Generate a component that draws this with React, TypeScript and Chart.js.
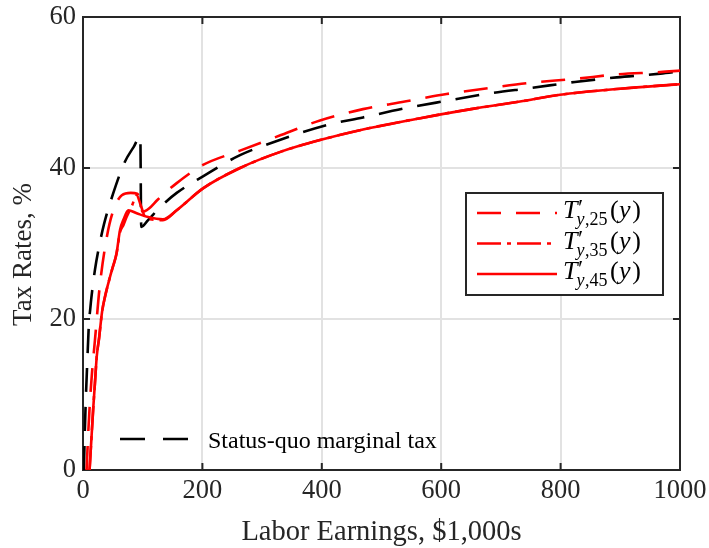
import { useEffect, useRef } from "react";
import { Chart, registerables } from "chart.js";

Chart.register(...registerables);

// Status-quo marginal tax schedule ($1,000s -> %)
const statusQuoEarnings = [1.5, 3, 5, 7, 10, 12, 14, 20, 28, 35, 50, 70, 85, 96, 97.5, 109, 129, 157, 201, 263, 333, 409, 469, 539, 609, 682, 751, 824, 894, 967, 1000];
const statusQuoRate = [0, 5, 10, 14, 19.5, 21.2, 22.8, 26.5, 30, 32.5, 36.5, 40.8, 42.8, 44.2, 32.2, 33.1, 34.8, 36.7, 38.9, 41.7, 43.8, 45.7, 46.7, 47.9, 48.9, 49.9, 50.6, 51.4, 52.0, 52.5, 52.8];

// Optimal marginal tax for age 25
const age25Earnings = [6, 9, 12, 15, 20, 28, 40, 50, 65, 80, 91, 100, 110, 125, 157, 201, 263, 333, 397, 469, 539, 609, 682, 751, 824, 894, 967, 1000];
const age25Rate = [0, 5.3, 9.5, 12.8, 17.2, 24.3, 30.9, 34.2, 36.4, 36.7, 36.6, 34.2, 34.6, 35.8, 38.0, 40.4, 42.3, 44.4, 46.3, 47.8, 48.8, 49.8, 50.6, 51.3, 51.8, 52.4, 52.7, 52.9];

// Optimal marginal tax for age 35
const age35Earnings = [11, 14, 17, 20, 23, 27, 32, 37, 45, 50, 56, 62, 68, 73, 82, 90, 97, 104, 112, 134, 157, 201, 263, 333, 397, 469, 565, 650, 732, 799, 900, 1000];
const age35Rate = [0, 4, 8, 11.5, 15, 17.5, 21, 23, 25.5, 26.9, 28.6, 31.5, 32.5, 33.5, 35.0, 36.4, 35.0, 33.5, 33.2, 33.1, 34.4, 37.3, 40.0, 42.2, 43.7, 45.1, 46.6, 47.8, 48.8, 49.7, 50.5, 51.1];

// Optimal marginal tax for age 45
const age45Earnings = [11, 14, 17, 20, 23, 27, 32, 37, 45, 50, 56, 62, 68, 76, 90, 109, 134, 157, 201, 263, 333, 397, 469, 565, 650, 732, 799, 900, 1000];
const age45Rate = [0, 4, 8, 11.5, 15, 17.5, 21, 23, 25.5, 26.9, 28.6, 31.8, 33.2, 34.4, 34.0, 33.5, 33.2, 34.4, 37.3, 40.0, 42.2, 43.7, 45.1, 46.6, 47.8, 48.8, 49.7, 50.5, 51.1];

const xTicks = [0, 200, 400, 600, 800, 1000];
const yTicks = [0, 20, 40, 60];
const legendAges = ["25", "35", "45"];
const xTitle = "Labor Earnings, $1,000s";
const yTitle = "Tax Rates, %";
const noteText = "Status-quo marginal tax";

const SERIF = '"Liberation Serif", "Times New Roman", serif';
const INK = "#262626";
const RED = "#ff0000";
const DASH = [24, 15];
const DASH_DOT = [24, 6, 4, 6];

const toPoints = (xs: number[], ys: number[]) => xs.map((x, i) => ({ x, y: ys[i] }));

// T'_{y,age}(y) written out with italic symbols, a prime and a subscript
function drawMathLabel(ctx: CanvasRenderingContext2D, x: number, baseline: number, age: string) {
  ctx.textAlign = "left";
  ctx.textBaseline = "alphabetic";
  ctx.font = `italic 26px ${SERIF}`;
  ctx.fillText("T", x, baseline);
  const tw = ctx.measureText("T").width;
  // prime
  ctx.font = `24px ${SERIF}`;
  ctx.fillText("\u2032", x + tw + 0.5, baseline - 3);
  // subscript y,age
  let sx = x + tw - 1;
  const sb = baseline + 7;
  ctx.font = `italic 18px ${SERIF}`;
  ctx.fillText("y", sx, sb);
  sx += ctx.measureText("y").width + 0.5;
  ctx.font = `18px ${SERIF}`;
  const rest = "," + age;
  ctx.fillText(rest, sx, sb);
  sx += ctx.measureText(rest).width + 2.5;
  // (y)
  ctx.font = `26px ${SERIF}`;
  ctx.fillText("(", sx, baseline);
  sx += ctx.measureText("(").width + 0.5;
  ctx.font = `italic 26px ${SERIF}`;
  ctx.fillText("y", sx, baseline);
  sx += ctx.measureText("y").width + 1.5;
  ctx.font = `26px ${SERIF}`;
  ctx.fillText(")", sx, baseline);
}

const framePlugin = {
  id: "frame",
  beforeDatasetsDraw(chart: any) {
    const { ctx, chartArea: a, scales } = chart;
    const xs = scales.x;
    const ys = scales.y;
    ctx.save();
    ctx.strokeStyle = INK;
    ctx.lineWidth = 2;
    ctx.strokeRect(a.left, a.top, a.right - a.left, a.bottom - a.top);
    ctx.beginPath();
    for (const v of xTicks) {
      const px = xs.getPixelForValue(v);
      ctx.moveTo(px, a.bottom);
      ctx.lineTo(px, a.bottom - 7);
      ctx.moveTo(px, a.top);
      ctx.lineTo(px, a.top + 7);
    }
    for (const v of yTicks) {
      const py = ys.getPixelForValue(v);
      ctx.moveTo(a.left, py);
      ctx.lineTo(a.left + 7, py);
      ctx.moveTo(a.right, py);
      ctx.lineTo(a.right - 7, py);
    }
    ctx.stroke();

    // axis titles
    ctx.fillStyle = INK;
    ctx.font = `28.5px ${SERIF}`;
    ctx.textAlign = "center";
    ctx.textBaseline = "alphabetic";
    ctx.fillText(xTitle, (a.left + a.right) / 2, a.bottom + 70);
    ctx.font = `27px ${SERIF}`;
    ctx.save();
    ctx.translate(31, (a.top + a.bottom) / 2 + 11);
    ctx.rotate(-Math.PI / 2);
    ctx.fillText(yTitle, 0, 0);
    ctx.restore();
    ctx.restore();
  },
  afterDatasetsDraw(chart: any) {
    const { ctx, chartArea: a } = chart;
    ctx.save();
    // legend box
    const lx = a.left + 383;
    const ly = a.top + 176;
    const lw = 197;
    const lh = 102;
    ctx.fillStyle = "#ffffff";
    ctx.fillRect(lx, ly, lw, lh);
    ctx.strokeStyle = INK;
    ctx.lineWidth = 2;
    ctx.strokeRect(lx, ly, lw, lh);
    const dashes = [DASH, DASH_DOT, []];
    legendAges.forEach((age, i) => {
      const cy = ly + 20 + i * 30.5;
      ctx.strokeStyle = RED;
      ctx.lineWidth = 2.6;
      ctx.setLineDash(dashes[i]);
      ctx.beginPath();
      ctx.moveTo(lx + 11, cy);
      ctx.lineTo(lx + 91, cy);
      ctx.stroke();
      ctx.setLineDash([]);
      ctx.fillStyle = "#000";
      drawMathLabel(ctx, lx + 97, cy + 5, age);
    });

    // status-quo note
    const ny = a.bottom - 31;
    ctx.strokeStyle = "#000";
    ctx.lineWidth = 2.6;
    ctx.setLineDash([25, 18]);
    ctx.beginPath();
    ctx.moveTo(a.left + 37, ny);
    ctx.lineTo(a.left + 105, ny);
    ctx.stroke();
    ctx.setLineDash([]);
    ctx.fillStyle = "#000";
    ctx.font = `24px ${SERIF}`;
    ctx.textAlign = "left";
    ctx.textBaseline = "alphabetic";
    ctx.fillText(noteText, a.left + 125, ny + 9);
    ctx.restore();
  },
};

export default function App() {
  const canvasRef = useRef<HTMLCanvasElement | null>(null);

  useEffect(() => {
    const canvas = canvasRef.current;
    if (!canvas) return;
    const gridColor = (c: any) =>
      c.tick && (c.tick.value === c.scale.min || c.tick.value === c.scale.max) ? "rgba(0,0,0,0)" : "#e2e2e2";
    const chart = new Chart(canvas, {
      type: "line",
      data: {
        datasets: [
          {
            label: "T25",
            data: toPoints(age25Earnings, age25Rate),
            borderColor: RED,
            borderDash: DASH,
            borderWidth: 2.6,
            order: 2,
          },
          {
            label: "T35",
            data: toPoints(age35Earnings, age35Rate),
            borderColor: RED,
            borderDash: DASH_DOT,
            borderWidth: 2.6,
            order: 1,
          },
          {
            label: "T45",
            data: toPoints(age45Earnings, age45Rate),
            borderColor: RED,
            borderWidth: 2.6,
            order: 0,
          },
          {
            label: "Status quo",
            data: toPoints(statusQuoEarnings, statusQuoRate),
            borderColor: "#000000",
            borderDash: DASH,
            borderWidth: 2.6,
            order: 3,
          },
        ],
      },
      options: {
        animation: false,
        responsive: false,
        devicePixelRatio: 1,
        parsing: false,
        normalized: true,
        layout: { padding: { left: 0, right: 29, top: 17, bottom: 0 } },
        elements: {
          point: { radius: 0 },
          line: { cubicInterpolationMode: "monotone", borderCapStyle: "butt" },
        },
        plugins: { legend: { display: false }, tooltip: { enabled: false } },
        scales: {
          x: {
            type: "linear",
            min: 0,
            max: 1000,
            afterBuildTicks: (s: any) => {
              s.ticks = xTicks.map((value) => ({ value }));
            },
            afterFit: (s: any) => {
              s.height = 78;
              s.paddingLeft = 0;
              s.paddingRight = 0;
            },
            grid: { color: gridColor, lineWidth: 2, drawTicks: false },
            border: { display: false },
            ticks: {
              padding: 5,
              maxRotation: 0,
              color: INK,
              font: { family: SERIF, size: 26.5 },
              callback: (v: any) => String(v),
            },
          },
          y: {
            type: "linear",
            min: 0,
            max: 60,
            afterBuildTicks: (s: any) => {
              s.ticks = yTicks.map((value) => ({ value }));
            },
            afterFit: (s: any) => {
              s.width = 83;
              s.paddingTop = 0;
              s.paddingBottom = 0;
            },
            grid: { color: gridColor, lineWidth: 2, drawTicks: false },
            border: { display: false },
            ticks: {
              padding: 7,
              color: INK,
              font: { family: SERIF, size: 26.5 },
              callback: (v: any) => String(v),
            },
          },
        },
      },
      plugins: [framePlugin],
    });
    return () => chart.destroy();
  }, []);

  return (
    <div style={{ position: "absolute", left: 0, top: 0, width: 709, height: 548, background: "#fff" }}>
      <canvas ref={canvasRef} width={709} height={548} style={{ width: 709, height: 548, display: "block" }} />
    </div>
  );
}
